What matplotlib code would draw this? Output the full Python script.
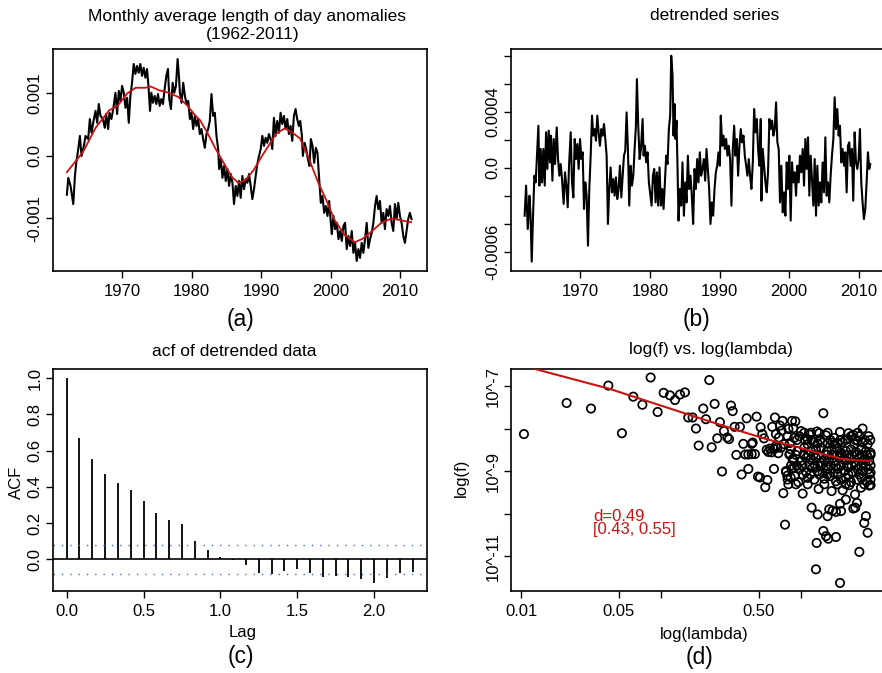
import matplotlib
matplotlib.use("Agg")
import matplotlib.pyplot as plt
import numpy as np
from matplotlib.ticker import NullLocator

plt.rcParams['font.family'] = ['Liberation Sans', 'DejaVu Sans']

W, H = 882, 673
RED = '#cc1111'
BLUE = '#3d6db5'

# (a) monthly LOD anomalies, values in units of 1e-3
lod_years = [
    1962.00, 1962.20, 1962.53, 1962.92, 1963.16, 1963.35, 1963.64, 1963.88, 1964.11, 1964.45,
    1964.69, 1965.07, 1965.31, 1965.55, 1965.84, 1966.13, 1966.37, 1966.60, 1966.84, 1967.18,
    1967.47, 1967.66, 1967.95, 1968.14, 1968.42, 1968.71, 1969.00, 1969.24, 1969.48, 1969.72,
    1969.96, 1970.20, 1970.44, 1970.68, 1970.92, 1971.15, 1971.39, 1971.63, 1971.87, 1972.11,
    1972.35, 1972.59, 1972.83, 1973.07, 1973.31, 1973.55, 1973.79, 1973.98, 1974.17, 1974.41,
    1974.65, 1974.89, 1975.13, 1975.37, 1975.61, 1975.85, 1976.09, 1976.33, 1976.57, 1976.76,
    1977.00, 1977.24, 1977.48, 1977.72, 1977.96, 1978.15,
    1978.29, 1978.53, 1978.77, 1979.01, 1979.25, 1979.49, 1979.73, 1979.96, 1980.20, 1980.44,
    1980.68, 1980.92, 1981.16, 1981.40, 1981.64, 1981.88, 1982.12, 1982.36, 1982.60, 1982.84,
    1983.08, 1983.32, 1983.56, 1983.80, 1983.94, 1984.18, 1984.42, 1984.66, 1984.90, 1985.14,
    1985.38, 1985.62, 1985.86, 1986.09, 1986.33, 1986.57, 1986.81, 1987.05, 1987.29, 1987.53,
    1987.77, 1988.01, 1988.25, 1988.49, 1988.73, 1988.97, 1989.21, 1989.45, 1989.69, 1989.93,
    1990.17, 1990.41, 1990.64, 1990.88, 1991.12, 1991.36, 1991.60, 1991.84, 1992.08, 1992.32,
    1992.56, 1992.80, 1993.04, 1993.28, 1993.52, 1993.76, 1994.00, 1994.24, 1994.48, 1994.72,
    1994.96, 1995.19, 1995.43,
    1995.63, 1995.87, 1996.01, 1996.25, 1996.49, 1996.73, 1996.97, 1997.16, 1997.40, 1997.64,
    1997.88, 1998.12, 1998.36, 1998.60, 1998.84, 1999.08, 1999.32, 1999.56, 1999.80, 2000.04,
    2000.18, 2000.42, 2000.66, 2000.90, 2001.14, 2001.38, 2001.62, 2001.86, 2002.09, 2002.33,
    2002.57, 2002.81, 2003.05, 2003.29, 2003.53, 2003.77, 2004.01, 2004.25, 2004.49, 2004.73,
    2004.97, 2005.21, 2005.45, 2005.69, 2005.93, 2006.17, 2006.41, 2006.64, 2006.88, 2007.12,
    2007.36, 2007.60, 2007.84, 2008.08, 2008.32, 2008.56, 2008.80, 2009.04, 2009.28, 2009.52,
    2009.76, 2010.00, 2010.24, 2010.48, 2010.72, 2010.96, 2011.19, 2011.43, 2011.67,
]
lod_anom = [
    -0.62, -0.35, -0.48, -0.77, -0.32, -0.11, 0.11, 0.32, 0.00, 0.16,
    0.32, 0.27, 0.59, 0.37, 0.56, 0.72, 0.53, 0.83, 0.64, 0.59,
    0.45, 0.67, 0.43, 0.69, 0.59, 0.77, 1.01, 0.67, 1.04, 0.88,
    1.12, 1.01, 0.77, 0.93, 0.53, 0.96, 1.17, 1.47, 1.31, 1.44,
    1.33, 1.47, 1.28, 1.41, 1.25, 1.39, 1.07, 0.72, 1.01, 0.85,
    0.96, 0.83, 0.99, 0.80, 0.91, 0.83, 1.07, 1.28, 1.39, 0.91,
    0.75, 1.17, 1.01, 1.12, 1.55, 1.28,
    1.01, 0.85, 1.17, 0.96, 0.83, 0.88, 0.59, 0.69, 0.43, 0.64,
    0.48, 0.59, 0.35, 0.43, 0.27, 0.13, 0.35, 0.43, 0.56, 0.99,
    0.64, 0.69, 0.32, 0.11, -0.21, -0.05, -0.35, -0.16, -0.40, -0.21,
    -0.48, -0.29, -0.43, -0.77, -0.48, -0.64, -0.40, -0.67, -0.32, -0.53,
    -0.37, -0.43, -0.29, -0.48, -0.69, -0.53, -0.32, -0.13, 0.00, 0.11,
    0.32, 0.16, 0.29, 0.21, 0.35, 0.27, 0.11, 0.61, 0.32, 0.56,
    0.37, 0.69, 0.51, 0.64, 0.43, 0.59, 0.35, 0.48, 0.24, 0.64,
    0.75, 0.59, 0.48,
    0.56, 0.32, 0.00, 0.21, 0.11, -0.05, -0.16, 0.27, 0.16, -0.11,
    0.13, 0.05, -0.37, -0.75, -0.64, -0.91, -0.80, -0.96, -0.72, -1.07,
    -1.25, -0.96, -1.17, -1.07, -1.33, -1.20, -1.36, -1.12, -1.07, -1.49,
    -1.28, -1.44, -1.20, -1.55, -1.39, -1.68, -1.49, -1.63, -1.39, -1.55,
    -1.33, -1.07, -1.47, -1.33, -1.23, -1.07, -0.80, -0.64, -0.85, -0.72,
    -1.07, -0.91, -1.17, -0.85, -0.96, -0.80, -1.07, -1.20, -0.77, -1.01,
    -0.75, -0.96, -1.07, -1.28, -1.39, -1.20, -1.01, -0.91, -1.01,
]
smooth_years = [
    1962.0, 1964.3, 1966.2, 1968.1, 1969.3, 1970.7, 1971.9, 1973.3, 1974.1, 1975.3,
    1976.7, 1978.1, 1979.3, 1980.5, 1981.2, 1982.2, 1983.4, 1984.8, 1985.8, 1986.7,
    1987.7, 1988.9, 1989.9, 1991.1, 1992.2, 1993.4, 1994.4, 1995.6, 1996.8, 1998.2,
    1999.4, 2000.6, 2002.1, 2003.5, 2004.7, 2006.1, 2007.3, 2008.8, 2010.2, 2011.6,
]
smooth_anom = [
    -0.26, 0.06, 0.46, 0.73, 0.80, 1.00, 1.09, 1.09, 1.11, 1.05,
    1.01, 0.94, 0.81, 0.65, 0.57, 0.38, 0.12, -0.15, -0.34, -0.43,
    -0.39, -0.23, -0.04, 0.17, 0.36, 0.44, 0.38, 0.28, -0.02, -0.42,
    -0.71, -1.03, -1.27, -1.38, -1.32, -1.19, -1.07, -1.00, -1.03, -1.06,
]

# (b) detrended series, values in units of 1e-4
detr_years = [
    1962.00, 1962.21, 1962.45, 1962.69, 1962.83, 1963.02, 1963.21, 1963.40, 1963.59, 1963.79,
    1963.98, 1964.12, 1964.31, 1964.50, 1964.69, 1964.89, 1965.08, 1965.27, 1965.46, 1965.65,
    1965.79, 1965.99, 1966.18, 1966.37, 1966.61, 1966.80, 1966.99, 1967.18, 1967.37, 1967.61,
    1967.80, 1967.99, 1968.19, 1968.38, 1968.62, 1968.81, 1969.00, 1969.19, 1969.38, 1969.57,
    1969.76, 1969.96, 1970.15, 1970.34, 1970.53, 1970.72, 1970.91, 1971.10, 1971.29, 1971.49,
    1971.68, 1971.87, 1972.06, 1972.25, 1972.44, 1972.63, 1972.82, 1973.02, 1973.21, 1973.40,
    1973.59, 1973.78, 1973.97, 1974.16, 1974.35, 1974.55, 1974.74, 1974.93, 1975.12, 1975.31,
    1975.50, 1975.69, 1975.89, 1976.08, 1976.27, 1976.46, 1976.65, 1976.84, 1977.03, 1977.22,
    1977.42, 1977.61, 1977.80, 1977.99, 1978.13,
    1978.32, 1978.52, 1978.71, 1978.95, 1979.09, 1979.28, 1979.47, 1979.66, 1979.85, 1980.05,
    1980.24, 1980.43, 1980.62, 1980.81, 1981.00, 1981.19, 1981.38, 1981.58, 1981.77, 1981.96,
    1982.15, 1982.34, 1982.53, 1982.72, 1982.91, 1983.06, 1983.25, 1983.39, 1983.54, 1983.68,
    1983.82, 1983.97, 1984.11, 1984.30, 1984.49, 1984.68, 1984.88, 1985.07, 1985.26, 1985.45,
    1985.64, 1985.83, 1986.02, 1986.21, 1986.41, 1986.60, 1986.79, 1986.98, 1987.17, 1987.36,
    1987.55, 1987.75, 1987.94, 1988.13, 1988.32, 1988.51, 1988.70, 1988.89, 1989.08, 1989.28,
    1989.47, 1989.66, 1989.85, 1990.04, 1990.18, 1990.38, 1990.57, 1990.76, 1990.95, 1991.14,
    1991.33, 1991.52, 1991.71, 1991.91, 1992.10, 1992.29, 1992.48, 1992.67, 1992.86, 1993.05,
    1993.24, 1993.44, 1993.63, 1993.82, 1994.01, 1994.20, 1994.39, 1994.58, 1994.78, 1994.97,
    1995.16, 1995.35, 1995.54, 1995.73, 1995.92,
    1996.02, 1996.21, 1996.40, 1996.59, 1996.78, 1996.97, 1997.16, 1997.35, 1997.55, 1997.74,
    1997.93, 1998.12, 1998.31, 1998.50, 1998.69, 1998.88, 1999.08, 1999.27, 1999.46, 1999.65,
    1999.84, 2000.03, 2000.22, 2000.41, 2000.61, 2000.80, 2000.99, 2001.18, 2001.37, 2001.56,
    2001.75, 2001.95, 2002.14, 2002.33, 2002.52, 2002.71, 2002.90, 2003.09, 2003.28, 2003.48,
    2003.67, 2003.86, 2004.05, 2004.24, 2004.43, 2004.62, 2004.81, 2005.01, 2005.20, 2005.39,
    2005.58, 2005.77, 2005.96, 2006.15, 2006.35, 2006.54, 2006.73, 2006.92, 2007.11, 2007.30,
    2007.49, 2007.68, 2007.88, 2008.07, 2008.26, 2008.45, 2008.64, 2008.83, 2009.02, 2009.21,
    2009.41, 2009.60, 2009.79, 2009.98, 2010.17, 2010.36, 2010.55, 2010.74, 2010.94, 2011.13,
    2011.32, 2011.51, 2011.65,
]
detr_anom = [
    -3.43, -1.28, -4.38, -2.00, -3.19, -6.71, -3.43, -0.57, -1.05, 0.98,
    3.00, -1.28, 1.34, -1.05, 1.34, -1.28, 2.53, -0.09, 2.65, 0.38,
    2.29, -0.93, 2.05, 0.26, 2.88, 0.62, -0.57, 0.26, -0.81, -2.59,
    -0.33, -1.28, -2.83, 0.14, 2.53, -1.05, -2.12, 2.05, 0.62, 1.69,
    -0.09, 2.05, 0.62, 1.10, -2.95, -1.05, -2.00, -5.57, -1.52, 0.86,
    3.72, 2.29, 2.76, 1.93, 3.72, 2.53, 1.57, 2.76, 2.29, 3.12,
    2.05, 0.86, -4.02, -1.52, 0.02, -1.76, -0.81, -2.00, -0.69, -2.24,
    -1.52, 0.14, -2.12, -0.57, 0.86, 1.22, 3.95, 1.34, -2.71, 0.14,
    -1.28, -0.57, 1.34, 3.00, 6.33,
    3.00, 0.62, 1.34, 3.48, 0.86, 1.57, 0.38, 1.10, -1.05, -1.88,
    -2.71, -0.57, -0.09, -2.48, -0.33, -2.71, 0.02, -2.71, -1.52, -2.95,
    -1.05, 0.86, 0.26, 2.76, 3.72, 8.00, 6.57, 2.29, 4.55, 2.05,
    3.36, -0.09, -3.78, -1.52, -2.71, 0.38, -3.43, -1.05, -2.48, 0.86,
    -1.52, -0.57, -2.00, -4.02, -0.09, -1.52, 0.62, -1.05, 1.10, -0.57,
    -0.09, 0.62, -0.93, 1.34, -0.09, -1.52, -4.02, -2.48, -3.43, -1.52,
    -0.33, 0.14, 1.10, 0.14, 3.72, 1.57, 2.29, 1.34, 2.05, 0.86,
    1.57, 0.62, -2.71, 1.34, 3.00, 0.86, 2.05, -0.57, 1.57, 2.76,
    1.81, 2.29, 0.86, 0.14, -0.57, 0.62, -0.57, -1.52, 0.38, 4.19,
    2.53, 3.48, 1.34, 0.14, 3.48,
    -2.36, 1.34, 0.14, -1.05, -1.76, -0.33, 3.48, 2.76, 3.36, 2.29,
    2.76, 4.67, 1.81, 1.34, -2.48, 0.14, -3.19, -1.76, -3.43, 0.38,
    -1.52, 0.86, -3.78, 0.38, -1.05, -0.33, -2.00, 0.14, -1.05, 0.86,
    -0.33, 1.34, -1.28, 2.05, -0.09, 2.17, -2.00, 0.86, -0.81, -2.71,
    0.62, -3.43, 0.14, -2.71, -1.05, -2.48, 0.38, -1.76, 2.17, -2.00,
    -1.05, -2.48, -0.57, 0.86, 2.05, 5.03, 2.76, 4.19, 2.29, 3.00,
    0.38, 1.34, 0.14, 1.10, -1.76, 1.57, 1.81, 0.14, 1.34, -2.36,
    2.53, 0.38, -0.09, 0.62, 2.76, -1.05, -2.48, -3.67, -2.95, -1.05,
    1.10, -0.09, 0.26,
]

# (c) acf of detrended data (lag in months)
acf_lag_months = list(range(28))
acf_values = [
    1.000, 0.672, 0.556, 0.470, 0.420, 0.381, 0.322, 0.258, 0.215, 0.197,
    0.101, 0.050, 0.013, -0.004, -0.033, -0.074, -0.081, -0.063, -0.055, -0.077,
    -0.096, -0.094, -0.096, -0.107, -0.129, -0.103, -0.077, -0.068,
]
acf_ci = 0.08

# (d) periodogram, log10(lambda) and log10(f)
pgram_loglam = [
    -1.979, -1.674, -1.500, -1.376, -1.279, -1.198, -1.133, -1.074, -1.024, -0.981,
    -0.936, -0.900, -0.864, -0.829, -0.805, -0.774, -0.750, -0.731, -0.655, -0.698,
    -0.617, -0.500, -0.488, -0.679, -0.579, -0.550, -0.598, -0.526, -0.514, -0.638,
    -0.564, -0.462, -0.474, -0.436, -0.412, -0.388, -0.352, -0.345, -0.398, -0.376,
    -0.352, -0.329, -0.376, -0.424, -0.317, -0.288, -0.276, -0.264, -0.307, -0.293,
    -0.240, -0.255, -0.186, -0.205, -0.179, -0.150, -0.131, -0.138, -0.157, -0.090,
    -0.064, -0.055, -0.079, -0.245, -0.233, -0.221, -0.210, -0.193, -0.169, -0.162,
    -0.193, -0.079, -0.060, -0.067, -0.107, -0.098, -0.090, -0.074, -0.126, -0.114,
    -0.043, -0.036,
    0.160, -0.040, 0.440, 0.483, 0.279, 0.340, 0.374, 0.114, 0.131, 0.060,
    0.024, 0.000,
    0.076, 0.119, 0.202, 0.226, 0.250, 0.286, 0.279, 0.321, 0.400, 0.388,
    0.374, 0.190, 0.464, 0.452, 0.476, 0.160, 0.179, 0.112, 0.195, 0.250,
    0.417, 0.107, 0.279, 0.012, 0.126, 0.219, 0.298, 0.386, 0.345, 0.497,
    -0.095, -0.048, -0.012, 0.048, 0.090, 0.119, 0.155, 0.190, 0.226, 0.262,
    0.298, 0.333, 0.357, 0.405, 0.440, 0.476,
    -0.179, -0.143, -0.071, -0.024, 0.024, 0.071, 0.107, 0.143, 0.186, 0.219,
    0.257, 0.286, 0.321, 0.357, 0.393, 0.429, 0.464, 0.497,
    -0.083, -0.052, 0.000, 0.036, 0.071, 0.107, 0.138, 0.167, 0.202, 0.238,
    0.274, 0.310, 0.345, 0.381, 0.417, 0.452, 0.488,
    -0.107, -0.048, -0.012, 0.036, 0.083, 0.119, 0.155, 0.190, 0.233, 0.262,
    0.310, 0.338, 0.369, 0.405, 0.440, 0.481, 0.497,
    -0.095, -0.019, 0.048, 0.095, 0.167, 0.210, 0.250, 0.286, 0.321, 0.357,
    0.400, 0.433, 0.471, 0.497,
    0.429, 0.488, 0.179, 0.238, 0.417,
    -0.029, 0.029, 0.076, 0.138, 0.210, 0.281, 0.317, 0.388, 0.457, 0.495,
    -0.036, 0.019, 0.052, 0.090, 0.124, 0.186, 0.219, 0.257, 0.293, 0.329,
    0.364, 0.400, 0.433, 0.471, 0.497,
    -0.071, -0.029, 0.012, 0.060, 0.100, 0.143, 0.179, 0.214, 0.250, 0.286,
    0.329, 0.362, 0.393, 0.429, 0.464, 0.497,
    0.012, 0.067, 0.131, 0.190, 0.262, 0.338, 0.417, 0.488,
    0.048, 0.167, 0.262, 0.321, 0.452,
    -0.119, 0.048, 0.238, 0.381,
    0.071, 0.190, 0.405,
]
pgram_logf = [
    -8.13, -7.40, -7.53, -6.99, -8.11, -7.25, -7.44, -6.80, -7.61, -7.16,
    -7.22, -7.33, -7.20, -7.15, -7.74, -7.74, -8.00, -8.40, -6.86, -7.53,
    -7.42, -7.46, -7.59, -7.78, -7.85, -8.06, -8.23, -8.21, -8.25, -8.44,
    -9.01, -8.62, -7.96, -7.96, -8.36, -7.76, -8.36, -8.33, -8.61, -8.61,
    -8.60, -8.60, -8.95, -9.08, -7.72, -7.97, -8.13, -8.23, -9.13, -9.15,
    -9.21, -9.38, -7.74, -7.96, -8.13, -7.93, -7.82, -8.05, -8.21, -8.01,
    -7.82, -7.99, -8.34, -8.50, -8.55, -8.47, -8.56, -8.48, -8.45, -8.58,
    -8.95, -8.60, -8.72, -8.95, -9.02, -9.11, -9.31, -9.15, -9.52, -10.26,
    -9.11, -9.31,
    -7.64, -7.83, -8.00, -8.18, -8.08, -8.11, -8.15, -8.07, -8.11, -8.14,
    -8.10, -8.06,
    -9.86, -10.02, -9.90, -9.93, -9.96, -9.94, -9.77, -9.67, -9.75, -9.86,
    -9.88, -10.06, -10.06, -10.22, -10.45, -10.41, -10.53, -10.69, -10.59, -10.55,
    -10.90, -11.31, -11.63, -9.53, -9.42, -9.47, -9.45, -9.55, -9.33, -9.33,
    -8.18, -8.22, -8.18, -8.25, -8.33, -8.35, -8.33, -8.35, -8.33, -8.35,
    -8.32, -8.25, -8.18, -8.29, -8.33, -8.37,
    -8.41, -8.45, -8.49, -8.53, -8.45, -8.53, -8.49, -8.45, -8.53, -8.49,
    -8.47, -8.57, -8.53, -8.49, -8.55, -8.49, -8.53, -8.57,
    -8.61, -8.74, -8.76, -8.69, -8.73, -8.69, -8.80, -8.74, -8.71, -8.76,
    -8.69, -8.74, -8.71, -8.79, -8.69, -8.74, -8.76,
    -9.00, -8.92, -8.96, -9.02, -8.92, -9.00, -9.04, -8.96, -9.04, -8.95,
    -9.00, -8.92, -9.02, -8.96, -9.00, -8.96, -9.04,
    -9.20, -9.26, -9.16, -9.20, -9.18, -9.12, -9.24, -9.20, -9.16, -9.26,
    -9.20, -9.16, -9.24, -9.20,
    -9.39, -9.34, -8.16, -8.22, -8.18,
    -8.27, -8.27, -8.27, -8.27, -8.27, -8.27, -8.27, -8.27, -8.27, -8.27,
    -8.62, -8.62, -8.62, -8.62, -8.62, -8.62, -8.62, -8.62, -8.62, -8.62,
    -8.62, -8.62, -8.62, -8.62, -8.62,
    -8.87, -8.87, -8.87, -8.87, -8.87, -8.87, -8.87, -8.87, -8.87, -8.87,
    -8.87, -8.87, -8.87, -8.87, -8.87, -8.87,
    -9.08, -9.08, -9.08, -9.08, -9.08, -9.08, -9.08, -9.08,
    -9.31, -9.31, -9.31, -9.31, -9.31,
    -8.37, -8.37, -8.37, -8.37,
    -8.10, -8.10, -8.10,
]
fit_loglam = [-1.98, -1.90, -1.364, -0.721, -0.483, -0.245, -0.043, 0.167, 0.286, 0.405, 0.497]
fit_logf = [-6.53, -6.60, -7.07, -7.76, -8.01, -8.25, -8.42, -8.61, -8.71, -8.75, -8.76]
d_label = 'd=0.49\n[0.43, 0.55]'


def px_box(left, top, right, bottom):
    return [left / W, 1 - bottom / H, (right - left) / W, (bottom - top) / H]


def px_text(x, y, s, size=12, rot=0, **kw):
    fig.text(x / W, 1 - y / H, s, ha='center', va='center', fontsize=size,
             rotation=rot, **kw)


def style(ax):
    for sp in ax.spines.values():
        sp.set_linewidth(1.2)
    ax.tick_params(length=5, width=1.0, labelsize=12)
    ax.tick_params(axis='x', pad=4.5)
    ax.tick_params(axis='y', pad=2.5)
    ax.xaxis.set_minor_locator(NullLocator())
    ax.yaxis.set_minor_locator(NullLocator())


def rotate_ylabels(ax):
    for lbl in ax.get_yticklabels():
        lbl.set_rotation(90)
        lbl.set_va('center')


fig = plt.figure(figsize=(W / 100, H / 100), dpi=100)

# (a)
ax = fig.add_axes(px_box(53, 49, 427, 271))
ax.plot(lod_years, np.array(lod_anom) * 1e-3, color='black', lw=1.5)
ax.plot(smooth_years, np.array(smooth_anom) * 1e-3, color=RED, lw=1.3)
ax.set_xlim(1960.0, 2013.9)
ax.set_ylim(-0.00184, 0.00171)
ax.set_xticks([1970, 1980, 1990, 2000, 2010])
ax.set_yticks([-0.001, 0.0, 0.001])
ax.set_yticklabels(['-0.001', '0.0', '0.001'])
style(ax)
rotate_ylabels(ax)

# (b)
ax = fig.add_axes(px_box(510.7, 49, 885.9, 271))
ax.plot(detr_years, np.array(detr_anom) * 1e-4, color='black', lw=1.5)
ax.set_xlim(1960.0, 2013.9)
ax.set_ylim(-0.000738, 0.000848)
ax.set_xticks([1970, 1980, 1990, 2000, 2010])
ax.set_yticks([-0.0006, -0.0004, -0.0002, 0.0, 0.0002, 0.0004, 0.0006, 0.0008])
ax.set_yticklabels(['-0.0006', '', '', '0.0', '', '0.0004', '', ''])
style(ax)
rotate_ylabels(ax)

# (c)
ax = fig.add_axes(px_box(52.7, 368.7, 427.3, 591))
lags = np.array(acf_lag_months) / 12
ax.vlines(lags, 0, acf_values, color='black', lw=1.3)
ax.axhline(0, color='black', lw=1.2)
ax.axhline(acf_ci, color=BLUE, lw=1.0, ls=(0, (1, 5)))
ax.axhline(-acf_ci, color=BLUE, lw=1.0, ls=(0, (1, 5)))
ax.set_xlim(-0.0909, 2.346)
ax.set_ylim(-0.175, 1.053)
ax.set_xticks([0.0, 0.5, 1.0, 1.5, 2.0])
ax.set_xticklabels(['0.0', '0.5', '1.0', '1.5', '2.0'])
ax.set_yticks([0.0, 0.2, 0.4, 0.6, 0.8, 1.0])
ax.set_yticklabels(['0.0', '0.2', '0.4', '0.6', '0.8', '1.0'])
style(ax)
rotate_ylabels(ax)

# (d)
ax = fig.add_axes(px_box(510.7, 369.3, 884.4, 591))
ax.set_xscale('log')
ax.set_yscale('log')
ax.scatter(10 ** np.array(pgram_loglam), 10 ** np.array(pgram_logf), s=36,
           facecolors='none', edgecolors='black', linewidths=1.25, zorder=2)
ax.plot(10 ** np.array(fit_loglam), 10 ** np.array(fit_logf), color=RED, lw=1.5, zorder=3)
ax.text(10 ** -1.483, 10 ** -10.215, d_label, color=RED, fontsize=12,
        va='center', ha='left', linespacing=0.82)
ax.set_xlim(10 ** -2.0736, 10 ** 0.596)
ax.set_ylim(10 ** -11.82, 10 ** -6.607)
ax.set_xticks([0.01, 0.05, 0.1, 0.5, 1.0])
ax.set_xticklabels(['0.01', '0.05', '', '0.50', ''])
ax.set_yticks([1e-11, 1e-10, 1e-9, 1e-8, 1e-7])
ax.set_yticklabels(['10^-11', '', '10^-9', '', '10^-7'])
style(ax)
rotate_ylabels(ax)

# titles and labels
px_text(247.5, 16, 'Monthly average length of day anomalies', size=12.5)
px_text(253, 35, '(1962-2011)', size=12.5)
px_text(714.4, 15, 'detrended series', size=12.5)
px_text(234, 351, 'acf of detrended data', size=12.5)
px_text(710.7, 349.3, 'log(f) vs. log(lambda)', size=12.5)
px_text(16.7, 482.7, 'ACF', rot=90)
px_text(242.3, 632, 'Lag')
px_text(461.7, 477.7, 'log(f)', rot=90)
px_text(704.3, 635, 'log(lambda)')
px_text(240.7, 319.3, '(a)', size=16.5)
px_text(697, 319.3, '(b)', size=16.5)
px_text(240.7, 656, '(c)', size=16.5)
px_text(699.3, 657.7, '(d)', size=16.5)

fig.savefig('out.png', dpi=100)
